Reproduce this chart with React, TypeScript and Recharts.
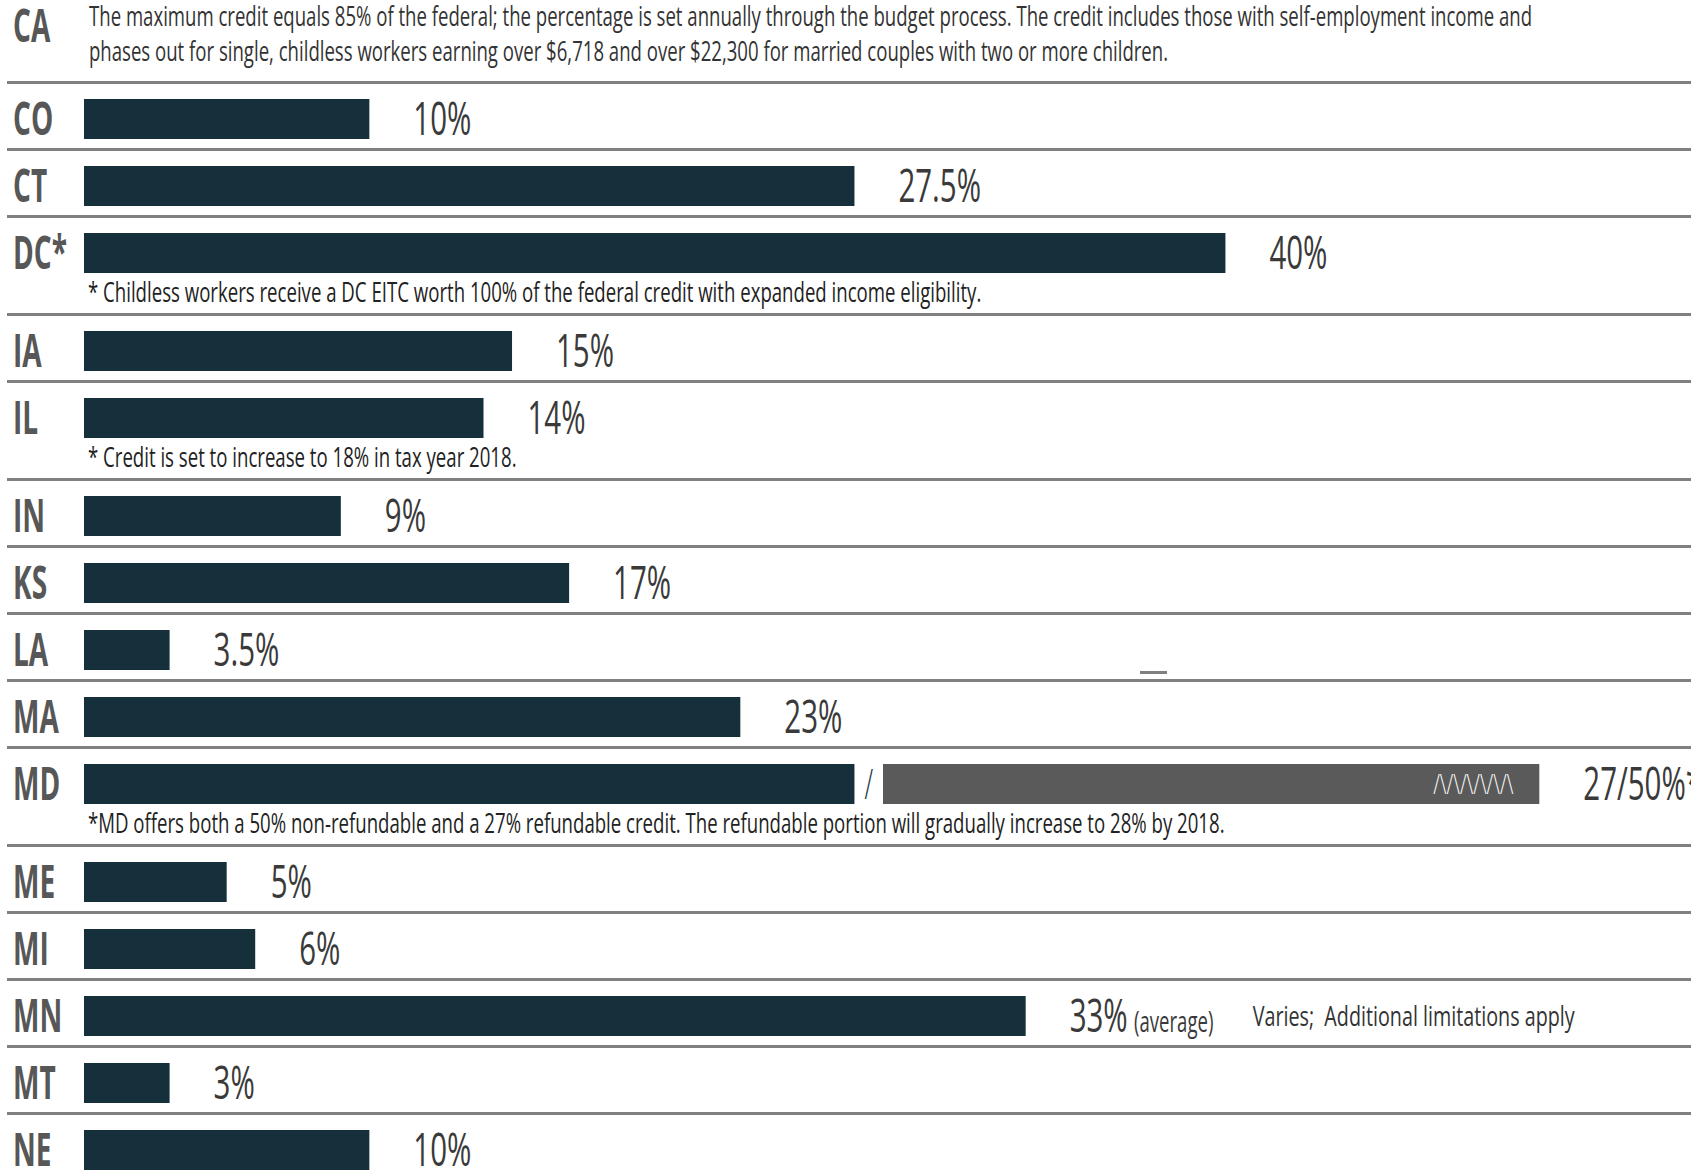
import React from 'react';
import { BarChart, Bar, XAxis, YAxis, LabelList } from 'recharts';

const PAGE_W = 1691;
const FONT = '"Open Sans", "Noto Sans", sans-serif';
const DARK = '#15303a';
const RULE = '#808080';

// state rows, top to bottom
const states = ['CO', 'CT', 'DC*', 'IA', 'IL', 'IN', 'KS', 'LA', 'MA', 'MD', 'ME', 'MI', 'MN', 'MT', 'NE'];
// bar lengths as drawn, % of the federal credit
const refundable = [10, 27, 40, 15, 14, 9, 17, 3, 23, 27, 5, 6, 33, 3, 10];
const splitGap = [0, 0, 0, 0, 0, 0, 0, 0, 0, 1, 0, 0, 0, 0, 0];
const nonRefundable = [0, 0, 0, 0, 0, 0, 0, 0, 0, 23, 0, 0, 0, 0, 0];
const valueLabels = ['10%', '27.5%', '40%', '15%', '14%', '9%', '17%', '3.5%', '23%', '27/50%*', '5%', '6%', '33%', '3%', '10%'];
const labelSuffix = ['', '', '', '', '', '', '', '', '', '', '', '', '(average)', '', ''];
const sideNotes = ['', '', '', '', '', '', '', '', '', '', '', '', 'Varies;\u00a0 Additional limitations apply', '', ''];
const footnotes = [
  '',
  '',
  '* Childless workers receive a DC EITC worth 100% of the federal credit with expanded income eligibility.',
  '',
  '* Credit is set to increase to 18% in tax year 2018.',
  '',
  '',
  '',
  '',
  '*MD offers both a 50% non-refundable and a 27% refundable credit. The refundable portion will gradually increase to 28% by 2018.',
  '',
  '',
  '',
  '',
  '',
];

const caState = 'CA';
const caNote = [
  'The maximum credit equals 85% of the federal; the percentage is set annually through the budget process. The credit includes those with self-employment income and',
  'phases out for single, childless workers earning over $6,718 and over $22,300 for married couples with two or more children.',
];

const X_MAX = 56;
const LABEL_GAP = 44;

function Narrow({ x, y, k, size, weight = 400, fill, anchor = 'start', children }: any) {
  return (
    <text
      transform={`translate(${x},${y}) scale(${k},1)`}
      fontFamily={FONT}
      fontSize={size}
      fontWeight={weight}
      fill={fill}
      textAnchor={anchor}
    >
      {children}
    </text>
  );
}

function StateTick({ y, payload }: any) {
  return <Narrow x={13} y={y + 16} k={0.61} size={46} weight={700} fill="#575757">{payload.value}</Narrow>;
}

function ValueLabel({ x, y, width, height, i }: any) {
  const lx = x + width + LABEL_GAP;
  const cy = y + height / 2;
  return (
    <g>
      <Narrow x={lx} y={cy + 16} k={0.64} size={46} fill="#3a3a3a">
        {valueLabels[i]}
        {labelSuffix[i] ? <tspan fontSize={29} dx={10}>{labelSuffix[i]}</tspan> : null}
      </Narrow>
      {sideNotes[i] ? (
        <Narrow x={lx + 183} y={cy + 10} k={0.7} size={28.2} fill="#333">{sideNotes[i]}</Narrow>
      ) : null}
    </g>
  );
}

function SlashLabel({ x, y, width, height }: any) {
  if (!width) return null;
  return <Narrow x={x + width / 2} y={y + height / 2 + 15} k={0.6} size={42} weight={300} fill={DARK} anchor="middle">/</Narrow>;
}

function ZigZag({ x, y, width, height }: any) {
  if (!width) return null;
  return (
    <Narrow x={x + width - 26} y={y + height / 2 + 10} k={0.7} size={28} weight={300} fill="#fff" anchor="end">
      {'/\\/\\/\\/\\/\\/\\'}
    </Narrow>
  );
}

function Rule() {
  return <div style={{ height: 3, marginLeft: 7, background: RULE }} />;
}

function StateRow({ i }: { i: number }) {
  const data = [{ state: states[i], refundable: refundable[i], gap: splitGap[i], nonRefundable: nonRefundable[i] }];
  const note = footnotes[i];
  const split = nonRefundable[i] > 0;
  const rowH = note ? 95 : 64;
  return (
    <div style={{ position: 'relative', height: rowH }}>
      <BarChart
        width={PAGE_W}
        height={64}
        data={data}
        layout="vertical"
        margin={{ top: 6, right: 9, bottom: 0, left: 0 }}
        style={{ position: 'absolute', left: 0, top: 0, overflow: 'visible' }}
      >
        <XAxis type="number" domain={[0, X_MAX]} hide />
        <YAxis type="category" dataKey="state" width={84} axisLine={false} tickLine={false} tick={(p: any) => <StateTick {...p} />} />
        <Bar dataKey="refundable" stackId="s" fill={DARK} barSize={40} isAnimationActive={false}>
          {!split && <LabelList dataKey="refundable" content={(p: any) => <ValueLabel {...p} i={i} />} />}
        </Bar>
        <Bar dataKey="gap" stackId="s" fill="transparent" barSize={40} isAnimationActive={false}>
          {split && <LabelList dataKey="gap" content={(p: any) => <SlashLabel {...p} />} />}
        </Bar>
        <Bar dataKey="nonRefundable" stackId="s" fill="#5a5a5a" barSize={40} isAnimationActive={false}>
          {split && <LabelList dataKey="nonRefundable" content={(p: any) => <ZigZag {...p} />} />}
          {split && <LabelList dataKey="nonRefundable" content={(p: any) => <ValueLabel {...p} i={i} />} />}
        </Bar>
      </BarChart>
      {note ? (
        <svg width={PAGE_W} height={rowH} style={{ position: 'absolute', left: 0, top: 0, pointerEvents: 'none' }}>
          <Narrow x={88} y={84} k={0.665} size={28} fill="#222">{note}</Narrow>
        </svg>
      ) : null}
      {states[i] === 'LA' ? (
        <div style={{ position: 'absolute', left: 1140, top: rowH - 8, width: 27, height: 3, background: RULE }} />
      ) : null}
    </div>
  );
}

export default function App() {
  return (
    <div style={{ position: 'fixed', left: 0, top: 0, width: PAGE_W, height: 1171, background: '#fff', overflow: 'hidden' }}>
      <svg width={PAGE_W} height={81} style={{ display: 'block' }}>
        <Narrow x={13} y={42} k={0.61} size={46} weight={700} fill="#575757">{caState}</Narrow>
        <Narrow x={89} y={26} k={0.664} size={28} fill="#333">{caNote[0]}</Narrow>
        <Narrow x={89} y={61} k={0.664} size={28} fill="#333">{caNote[1]}</Narrow>
      </svg>
      {states.map((s, i) => (
        <div key={s}>
          <Rule />
          <StateRow i={i} />
        </div>
      ))}
    </div>
  );
}
